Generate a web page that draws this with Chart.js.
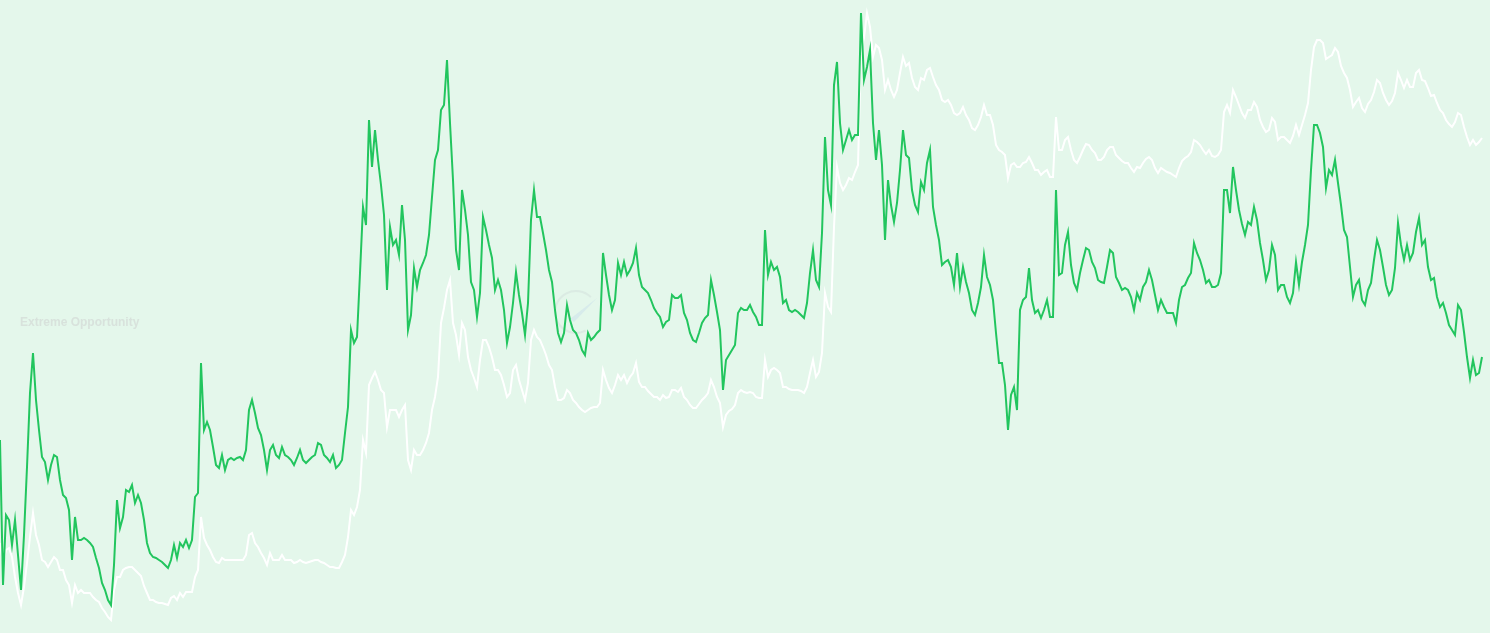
<!DOCTYPE html>
<html>
<head>
<meta charset="utf-8">
<title>Opportunity index</title>
<script src="https://cdn.jsdelivr.net/npm/chart.js@4.4.1/dist/chart.umd.min.js"></script>
<style>
  html, body { margin: 0; padding: 0; background: #e4f7eb; }
  #wrap { position: relative; width: 1490px; height: 633px; }
</style>
</head>
<body>
<div id="wrap"><canvas id="chart"></canvas></div>
<script>
// Indicator (green) and price (white), one value per period
const indicator = [
  193, 48, 118, 113, 88, 113, 78, 43, 98, 166,
  240, 280, 233, 203, 176, 171, 153, 168, 178, 176,
  153, 138, 135, 123, 73, 116, 93, 93, 95, 93,
  90, 86, 75, 65, 50, 43, 33, 28, 68, 133,
  105, 116, 143, 141, 148, 130, 138, 130, 113, 90,
  80, 76, 75, 73, 71, 68, 65, 73, 88, 75,
  90, 86, 93, 85, 93, 136, 140, 270, 203, 211,
  203, 186, 168, 165, 178, 163, 173, 175, 173, 175,
  176, 173, 183, 223, 233, 220, 205, 198, 183, 163,
  183, 188, 178, 175, 186, 178, 176, 173, 168, 175,
  183, 173, 170, 173, 176, 178, 190, 188, 178, 175,
  171, 178, 165, 168, 173, 200, 226, 303, 290, 296,
  360, 426, 408, 513, 466, 503, 473, 448, 418, 343,
  406, 388, 393, 378, 428, 393, 303, 318, 365, 346,
  363, 370, 378, 398, 436, 473, 483, 523, 528, 573,
  510, 453, 383, 363, 443, 423, 398, 351, 343, 316,
  340, 416, 403, 388, 375, 343, 353, 343, 323, 290,
  306, 330, 361, 338, 320, 298, 330, 413, 443, 416,
  416, 400, 383, 363, 351, 323, 300, 291, 300, 328,
  313, 303, 300, 293, 283, 278, 300, 293, 296, 300,
  303, 380, 358, 338, 323, 333, 370, 358, 371, 358,
  363, 370, 385, 358, 346, 343, 340, 333, 325, 320,
  316, 306, 311, 313, 338, 335, 335, 338, 320, 313,
  300, 293, 291, 300, 310, 315, 318, 353, 338, 321,
  303, 243, 273, 278, 283, 288, 320, 325, 323, 323,
  328, 321, 316, 308, 308, 403, 358, 371, 363, 366,
  356, 330, 333, 323, 321, 323, 321, 318, 315, 330,
  360, 383, 353, 346, 400, 496, 443, 428, 548, 571,
  510, 483, 493, 503, 493, 498, 498, 620, 553, 566,
  583, 510, 473, 503, 468, 393, 453, 428, 411, 430,
  463, 503, 478, 475, 443, 428, 421, 451, 443, 470,
  483, 426, 408, 393, 368, 371, 373, 366, 348, 380,
  346, 366, 351, 340, 323, 318, 330, 346, 378, 356,
  348, 333, 300, 270, 270, 248, 203, 238, 246, 223,
  323, 333, 336, 365, 333, 320, 323, 315, 323, 333,
  316, 316, 443, 358, 360, 388, 401, 368, 350, 343,
  360, 373, 385, 383, 371, 365, 353, 351, 350, 366,
  383, 380, 356, 350, 343, 345, 343, 336, 323, 340,
  333, 346, 351, 363, 353, 338, 323, 333, 326, 320,
  320, 320, 310, 333, 346, 348, 355, 360, 390, 380,
  373, 363, 350, 353, 346, 346, 348, 360, 443, 443,
  420, 466, 443, 423, 409, 398, 411, 408, 426, 413,
  390, 373, 353, 363, 388, 378, 343, 348, 348, 336,
  330, 340, 371, 348, 371, 388, 408, 463, 508, 508,
  500, 486, 445, 463, 458, 473, 450, 428, 403, 396,
  366, 336, 348, 353, 333, 328, 343, 350, 373, 393,
  383, 366, 348, 338, 343, 365, 410, 388, 373, 388,
  373, 380, 401, 415, 388, 393, 366, 353, 355, 336,
  326, 330, 320, 308, 303, 298, 328, 323, 301, 276,
  255, 273, 258, 260, 276
];

const price = [
  90, 70, 83, 85, 76, 56, 40, 28, 46, 70,
  96, 120, 98, 88, 73, 71, 66, 71, 76, 73,
  63, 63, 53, 48, 30, 48, 40, 43, 40, 40,
  40, 36, 33, 31, 25, 21, 16, 13, 43, 56,
  56, 63, 65, 66, 66, 63, 60, 57, 47, 40,
  33, 33, 31, 30, 30, 29, 28, 35, 37, 33,
  40, 36, 41, 41, 41, 56, 63, 116, 95, 88,
  83, 76, 71, 70, 75, 73, 73, 73, 73, 73,
  73, 73, 78, 98, 100, 90, 86, 80, 75, 68,
  80, 73, 73, 73, 78, 73, 73, 73, 70, 71,
  73, 71, 70, 71, 72, 73, 73, 71, 70, 68,
  66, 66, 65, 65, 71, 78, 96, 123, 118, 126,
  143, 193, 180, 248, 255, 261, 253, 243, 240, 206,
  223, 223, 223, 216, 223, 228, 173, 163, 183, 178,
  178, 183, 190, 200, 223, 236, 256, 310, 325, 343,
  353, 310, 298, 278, 310, 303, 276, 263, 255, 246,
  273, 293, 293, 286, 276, 263, 263, 258, 248, 236,
  240, 263, 268, 253, 243, 233, 250, 293, 303, 296,
  293, 286, 278, 268, 263, 246, 233, 233, 235, 243,
  240, 233, 230, 226, 223, 221, 223, 225, 226, 226,
  230, 263, 253, 245, 240, 248, 258, 253, 258, 250,
  256, 260, 270, 251, 246, 246, 242, 239, 236, 236,
  233, 238, 235, 236, 243, 243, 241, 245, 236, 233,
  228, 225, 225, 229, 233, 236, 240, 253, 246, 236,
  230, 206, 218, 222, 224, 228, 240, 243, 241, 240,
  241, 240, 236, 235, 235, 273, 256, 263, 265, 263,
  260, 246, 246, 244, 243, 243, 243, 242, 240, 246,
  260, 273, 256, 261, 280, 340, 326, 321, 406, 466,
  450, 443, 448, 455, 453, 461, 468, 583, 595, 620,
  606, 576, 588, 585, 573, 543, 553, 543, 536, 543,
  560, 576, 567, 570, 555, 546, 543, 555, 553, 563,
  565, 556, 548, 543, 533, 531, 533, 528, 520, 518,
  520, 526, 518, 513, 505, 503, 508, 516, 528, 518,
  518, 508, 488, 483, 481, 478, 455, 468, 470, 466,
  466, 470, 471, 476, 470, 463, 463, 458, 461, 463,
  456, 456, 516, 483, 483, 493, 496, 483, 473, 470,
  476, 483, 489, 488, 483, 480, 473, 473, 476, 483,
  486, 486, 478, 475, 472, 470, 470, 465, 461, 466,
  465, 470, 474, 476, 473, 465, 460, 465, 463, 461,
  460, 458, 456, 465, 472, 475, 477, 481, 493, 491,
  488, 483, 479, 483, 477, 476, 478, 483, 521, 528,
  520, 543, 536, 528, 520, 515, 523, 523, 531, 526,
  513, 506, 501, 503, 515, 511, 493, 496, 496, 493,
  490, 497, 508, 498, 508, 518, 530, 563, 586, 593,
  593, 590, 574, 576, 578, 585, 581, 567, 560, 555,
  543, 526, 531, 535, 525, 521, 529, 533, 541, 553,
  550, 540, 533, 528, 532, 540, 560, 553, 545, 553,
  546, 546, 560, 563, 553, 552, 545, 537, 538, 530,
  523, 520, 513, 509, 506, 511, 520, 518, 506, 496,
  488, 493, 488, 491, 495
];

const periods = indicator.map((_, i) => i + 1);
const zoneLabel = "Extreme Opportunity";

// faint zone label and watermark, drawn under the lines
const backdrop = {
  id: "backdrop",
  beforeDatasetsDraw(chart) {
    const { ctx } = chart;
    ctx.save();
    ctx.font = "bold 12px 'Liberation Sans', Arial, sans-serif";
    ctx.fillStyle = "#d8e2dc";
    ctx.textBaseline = "middle";
    ctx.fillText(zoneLabel, 20, 323);

    ctx.strokeStyle = "rgba(210, 224, 220, 0.5)";
    ctx.lineWidth = 2;
    ctx.beginPath();
    ctx.arc(576, 312, 21, Math.PI * 0.35, Math.PI * 1.75);
    ctx.stroke();
    ctx.fillStyle = "rgba(195, 218, 235, 0.4)";
    ctx.beginPath();
    ctx.moveTo(597, 298);
    ctx.lineTo(574, 322);
    ctx.lineTo(570, 319);
    ctx.closePath();
    ctx.fill();
    ctx.restore();
  }
};

new Chart(document.getElementById("chart"), {
  type: "line",
  data: {
    labels: periods,
    datasets: [
      {
        label: "Indicator",
        data: indicator,
        borderColor: "#22c55e",
        borderWidth: 2,
        pointRadius: 0,
        tension: 0
      },
      {
        label: "Price",
        data: price,
        borderColor: "#ffffff",
        borderWidth: 2,
        pointRadius: 0,
        tension: 0
      }
    ]
  },
  options: {
    responsive: true,
    maintainAspectRatio: false,
    animation: false,
    layout: { padding: { left: 0, right: 8, top: 0, bottom: 0 } },
    plugins: {
      legend: { display: false },
      tooltip: { enabled: false }
    },
    scales: {
      x: { display: false, offset: false },
      y: { display: false, min: 0, max: 633 }
    }
  },
  plugins: [backdrop]
});
</script>
</body>
</html>
